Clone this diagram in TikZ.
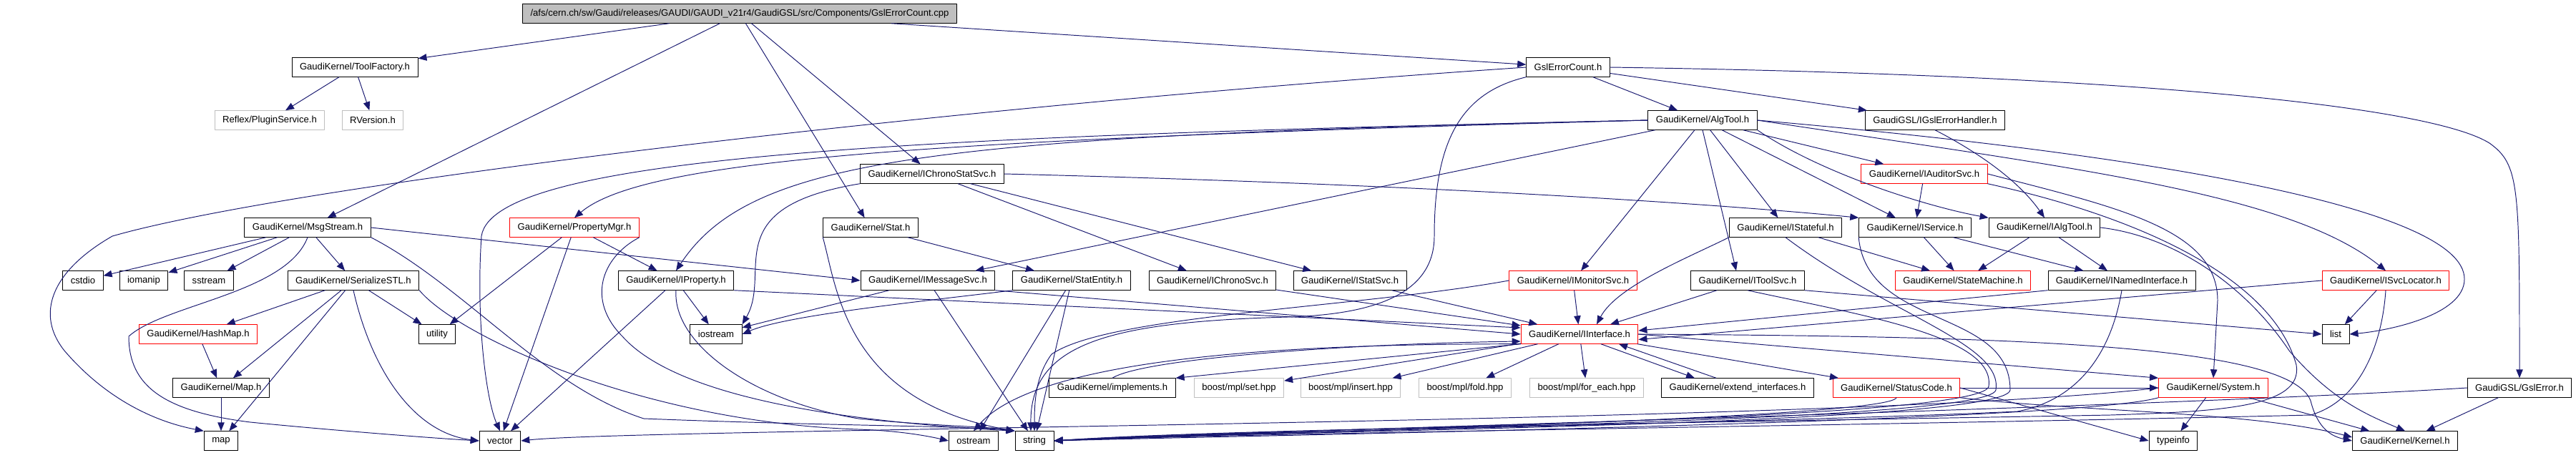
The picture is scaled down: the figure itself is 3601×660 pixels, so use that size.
\documentclass[tikz,border=0pt]{standalone}
\usepackage{fontspec}
\setmainfont{Liberation Sans}
\usetikzlibrary{arrows.meta}
\definecolor{edgeblue}{HTML}{191970}
\definecolor{extgray}{HTML}{BFBFBF}
\definecolor{truncred}{HTML}{FF0000}

\begin{document}
\begin{tikzpicture}[
		x=0.02cm,
		y=-0.02cm,
		line cap=round,
		line join=round,
		hdr/.style={draw=black,line width=0.55pt,minimum height=0.53cm,inner xsep=0.22cm,inner ysep=0pt,font=\fontsize{7.45}{9}\selectfont},
		hdrred/.style={hdr,draw=truncred},
		hdrgray/.style={hdr,draw=extgray},
		rootbox/.style={hdr,fill=extgray},
		dep/.style={draw=edgeblue,line width=0.55pt,-{Triangle[length=0.24cm,width=0.19cm]}}
	]
	
	\useasboundingbox (0,0) rectangle (3601,660);
	
	% Source file
	\node[rootbox] (root) at (1034,19) {/afs/cern.ch/sw/Gaudi/releases/GAUDI/GAUDI\_v21r4/GaudiGSL/src/Components/GslErrorCount.cpp};
	
	% Headers, row by row
	\node[hdr] (toolfac) at (496,94) {GaudiKernel/ToolFactory.h};
	\node[hdr] (gslcnt) at (2192,94) {GslErrorCount.h};
	
	\node[hdrgray] (plugin) at (377,168) {Reflex/PluginService.h};
	\node[hdrgray] (rversion) at (521,168) {RVersion.h};
	\node[hdr] (algtool) at (2380,168) {GaudiKernel/AlgTool.h};
	\node[hdr] (gslhandler) at (2705,168) {GaudiGSL/IGslErrorHandler.h};
	
	\node[hdr] (chronostat) at (1303,243) {GaudiKernel/IChronoStatSvc.h};
	\node[hdrred] (auditor) at (2690,243) {GaudiKernel/IAuditorSvc.h};
	
	\node[hdr] (msgstream) at (430,318) {GaudiKernel/MsgStream.h};
	\node[hdrred] (propmgr) at (803,318) {GaudiKernel/PropertyMgr.h};
	\node[hdr] (stat) at (1217,318) {GaudiKernel/Stat.h};
	\node[hdr] (stateful) at (2496,318) {GaudiKernel/IStateful.h};
	\node[hdr] (iservice) at (2677,318) {GaudiKernel/IService.h};
	\node[hdr] (ialgtool) at (2858,318) {GaudiKernel/IAlgTool.h};
	
	\node[hdr] (cstdio) at (116,392) {cstdio};
	\node[hdr] (iomanip) at (201,392) {iomanip};
	\node[hdr] (sstream) at (292,392) {sstream};
	\node[hdr] (serial) at (494,392) {GaudiKernel/SerializeSTL.h};
	\node[hdr] (iproperty) at (945,392) {GaudiKernel/IProperty.h};
	\node[hdr] (msgsvc) at (1297,392) {GaudiKernel/IMessageSvc.h};
	\node[hdr] (statentity) at (1498,392) {GaudiKernel/StatEntity.h};
	\node[hdr] (chronosvc) at (1695,392) {GaudiKernel/IChronoSvc.h};
	\node[hdr] (statsvc) at (1887,392) {GaudiKernel/IStatSvc.h};
	\node[hdrred] (monitor) at (2199,392) {GaudiKernel/IMonitorSvc.h};
	\node[hdr] (toolsvc) at (2443,392) {GaudiKernel/IToolSvc.h};
	\node[hdrred] (statemach) at (2744,392) {GaudiKernel/StateMachine.h};
	\node[hdr] (named) at (2966,392) {GaudiKernel/INamedInterface.h};
	\node[hdrred] (svcloc) at (3335,392) {GaudiKernel/ISvcLocator.h};
	
	\node[hdrred] (hashmap) at (277,467) {GaudiKernel/HashMap.h};
	\node[hdr] (utility) at (611,467) {utility};
	\node[hdr] (iostream) at (1001,467) {iostream};
	\node[hdrred] (iinterface) at (2208,467) {GaudiKernel/IInterface.h};
	\node[hdr] (list) at (3265,467) {list};
	
	\node[hdr] (mapH) at (309,542) {GaudiKernel/Map.h};
	\node[hdr] (implements) at (1555,542) {GaudiKernel/implements.h};
	\node[hdrgray] (mplset) at (1732,542) {boost/mpl/set.hpp};
	\node[hdrgray] (mplinsert) at (1888,542) {boost/mpl/insert.hpp};
	\node[hdrgray] (mplfold) at (2048,542) {boost/mpl/fold.hpp};
	\node[hdrgray] (mplforeach) at (2218,542) {boost/mpl/for\_each.hpp};
	\node[hdr] (extend) at (2429,542) {GaudiKernel/extend\_interfaces.h};
	\node[hdrred] (statuscode) at (2651,542) {GaudiKernel/StatusCode.h};
	\node[hdrred] (system) at (3094,542) {GaudiKernel/System.h};
	\node[hdr] (gslerror) at (3522,542) {GaudiGSL/GslError.h};
	
	\node[hdr] (map) at (309,616) {map};
	\node[hdr] (vector) at (699,616) {vector};
	\node[hdr] (ostream) at (1361,616) {ostream};
	\node[hdr] (string) at (1446,616) {string};
	\node[hdr] (typeinfo) at (3038,616) {typeinfo};
	\node[hdr] (kernel) at (3362,616) {GaudiKernel/Kernel.h};
	
	% GslErrorCount.cpp
	\draw[dep] (root) -- (toolfac);
	\draw[dep] (root) -- (msgstream);
	\draw[dep] (root) -- (stat);
	\draw[dep] (root) -- (chronostat);
	\draw[dep] (root) -- (gslcnt);
	
	% ToolFactory.h
	\draw[dep] (toolfac) -- (plugin);
	\draw[dep] (toolfac) -- (rversion);
	
	% GslErrorCount.h
	\draw[dep] (gslcnt) -- (algtool);
	\draw[dep] (gslcnt) -- (gslhandler);
	\draw[dep] (gslcnt.east) .. controls (3000,105) and (3400,150) .. (3480,200) .. controls (3522,230) and (3522,260) .. (gslerror.north);
	\draw[dep] (gslcnt.west) .. controls (1300,150) and (400,260) .. (157,330) .. controls (70,380) and (50,440) .. (90,490) .. controls (150,560) and (220,590) .. (map.north west);
	\draw[dep] (gslcnt.south west) .. controls (2040,130) and (2005,200) .. (2005,330) .. controls (2005,420) and (1900,440) .. (1800,443) .. controls (1550,450) and (1440,480) .. ([xshift=-0.1cm]string.north);
	
	% AlgTool.h
	\draw[dep] (algtool) -- (stateful);
	\draw[dep] (algtool) -- (iservice);
	\draw[dep] (algtool.south east) .. controls (2550,245) and (2700,290) .. (ialgtool.north west);
	\draw[dep] (algtool) -- (auditor);
	\draw[dep] (algtool) -- (monitor);
	\draw[dep] (algtool.south) -- ([xshift=-0.32cm]toolsvc.north);
	\draw[dep] (algtool) -- (msgsvc);
	\draw[dep] (algtool.west) .. controls (1300,190) and (1050,220) .. (iproperty.north);
	\draw[dep] (algtool.west) .. controls (1300,195) and (900,222) .. (propmgr.north);
	\draw[dep] (algtool.west) .. controls (1300,190) and (690,215) .. (673,330) .. controls (665,450) and (680,560) .. (vector.north);
	\draw[dep] (algtool.east) .. controls (2900,235) and (3200,270) .. (svcloc.north);
	\draw[dep] (algtool.east) .. controls (3000,215) and (3445,290) .. (3445,390) .. controls (3445,440) and (3340,462) .. (list.east);
	
	% IGslErrorHandler.h
	\draw[dep] (gslhandler.south) .. controls (2760,210) and (2820,250) .. (ialgtool.north);
	
	% IChronoStatSvc.h
	\draw[dep] (chronostat.east) .. controls (2000,258) and (2400,285) .. (iservice.north west);
	\draw[dep] (chronostat) -- (chronosvc);
	\draw[dep] (chronostat) -- (statsvc);
	\draw[dep] (chronostat.south west) .. controls (1000,290) and (1080,380) .. (iostream.north east);
	
	% IAuditorSvc.h
	\draw[dep] (auditor) -- (iservice);
	\draw[dep] (auditor.east) .. controls (2960,290) and (3100,320) .. (3100,420) -- (system.north);
	\draw[dep] (auditor.south east) .. controls (3020,310) and (3180,400) .. (3210,510) .. controls (3220,570) and (3100,575) .. (2950,580) .. controls (2400,590) and (1700,600) .. (string.east);
	
	% MsgStream.h
	\draw[dep] (msgstream) -- (cstdio);
	\draw[dep] (msgstream) -- (iomanip);
	\draw[dep] (msgstream) -- (sstream);
	\draw[dep] (msgstream) -- (serial);
	\draw[dep] (msgstream.east) -- (msgsvc.west);
	\draw[dep] (msgstream.south) .. controls (400,410) and (230,425) .. (180,470) .. controls (180,540) and (230,575) .. (350,590) .. controls (450,600) and (600,612) .. (vector.west);
	\draw[dep] (msgstream.south east) .. controls (650,400) and (760,540) .. (900,585) .. controls (1150,595) and (1350,595) .. (string.north west);
	
	% SerializeSTL.h
	\draw[dep] (serial) -- (hashmap);
	\draw[dep] (serial) -- (mapH);
	\draw[dep] (serial) -- (map);
	\draw[dep] (serial) -- (utility);
	\draw[dep] (serial.south) .. controls (520,520) and (580,605) .. (vector.west);
	\draw[dep] (serial.south east) .. controls (640,470) and (900,590) .. (1200,600) .. controls (1260,602) and (1300,610) .. (ostream.west);
	
	% HashMap.h, Map.h
	\draw[dep] (hashmap) -- (mapH);
	\draw[dep] (mapH) -- (map);
	
	% PropertyMgr.h
	\draw[dep] (propmgr) -- (iproperty);
	\draw[dep] (propmgr) -- (utility);
	\draw[dep] (propmgr) -- (vector);
	\draw[dep] (propmgr.south east) .. controls (840,360) and (820,420) .. (870,470) .. controls (950,560) and (1200,590) .. (string.north west);
	
	% IProperty.h
	\draw[dep] (iproperty) -- (iostream);
	\draw[dep] (iproperty) -- (vector);
	\draw[dep] (iproperty.south east) -- ([yshift=0.18cm]iinterface.west);
	\draw[dep] (iproperty.south) .. controls (940,480) and (1050,560) .. (1200,585) .. controls (1300,595) and (1380,596) .. (string.north west);
	
	% Stat.h
	\draw[dep] (stat) -- (statentity);
	\draw[dep] (stat.south west) .. controls (1170,400) and (1180,560) .. (string.north west);
	
	% StatEntity.h
	\draw[dep] (statentity) -- (ostream);
	\draw[dep] (statentity) -- (string);
	\draw[dep] (statentity.south west) .. controls (1300,420) and (1100,440) .. (iostream.east);
	
	% IMessageSvc.h
	\draw[dep] (msgsvc.south east) -- (iinterface.west);
	\draw[dep] (msgsvc) -- (iostream);
	\draw[dep] (msgsvc) -- (string);
	
	% IChronoSvc.h, IStatSvc.h
	\draw[dep] (chronosvc) -- (iinterface);
	\draw[dep] (statsvc) -- (iinterface);
	
	% IMonitorSvc.h
	\draw[dep] (monitor) -- (iinterface);
	\draw[dep] (monitor.west) .. controls (1900,430) and (1550,440) .. (1470,495) .. controls (1448,525) and (1446,560) .. (string.north);
	
	% IToolSvc.h
	\draw[dep] (toolsvc) -- (iinterface);
	\draw[dep] (toolsvc.south east) -- (list.west);
	\draw[dep] (toolsvc.south) .. controls (2600,440) and (2790,470) .. (2780,540) .. controls (2770,590) and (1750,598) .. (string.east);
	
	% IStateful.h
	\draw[dep] (stateful) -- (statemach);
	\draw[dep] (stateful.south west) .. controls (2360,360) and (2260,400) .. ([xshift=0.48cm]iinterface.north);
	\draw[dep] (stateful.south) .. controls (2640,440) and (2800,480) .. (2790,545) .. controls (2780,592) and (1750,600) .. (string.east);
	
	% IService.h
	\draw[dep] (iservice) -- (statemach);
	\draw[dep] (iservice) -- (named);
	\draw[dep] (iservice.south west) .. controls (2610,460) and (2810,430) .. (2810,545) .. controls (2805,595) and (1750,602) .. (string.east);
	
	% IAlgTool.h
	\draw[dep] (ialgtool) -- (statemach);
	\draw[dep] (ialgtool) -- (named);
	\draw[dep] (ialgtool.east) .. controls (3040,330) and (3140,400) .. (3200,490) .. controls (3260,560) and (3310,580) .. (kernel.north);
	
	% INamedInterface.h
	\draw[dep] (named.south west) -- ([yshift=0.1cm]iinterface.east);
	\draw[dep] (named.south) .. controls (2950,500) and (2900,560) .. (2820,575) .. controls (2500,590) and (1750,603) .. (string.east);
	
	% ISvcLocator.h
	\draw[dep] (svcloc) -- (list);
	\draw[dep] (svcloc.west) -- ([yshift=-0.15cm]iinterface.east);
	\draw[dep] (svcloc.south) .. controls (3330,480) and (3300,560) .. (3230,580) .. controls (2600,595) and (1750,605) .. (string.east);
	
	% IInterface.h
	\draw[dep] (iinterface) -- (mplset);
	\draw[dep] (iinterface) -- (mplinsert);
	\draw[dep] (iinterface) -- (mplfold);
	\draw[dep] (iinterface) -- (mplforeach);
	\draw[dep] (iinterface.south west) -- (implements.north east);
	\draw[dep] ([xshift=0.6cm]iinterface.south) -- ([xshift=-1.2cm]extend.north);
	\draw[dep] (iinterface) -- (statuscode);
	\draw[dep] (iinterface.east) -- (system.north west);
	\draw[dep] (iinterface.east) .. controls (2800,470) and (3200,480) .. (3230,560) .. controls (3240,600) and (3260,610) .. (kernel.west);
	\draw[dep] (iinterface.south west) .. controls (1800,480) and (1450,500) .. (ostream.north);
	
	% implements.h, extend_interfaces.h
	\draw[dep] (implements.north) .. controls (1600,500) and (1900,480) .. ([yshift=-0.2cm]iinterface.west);
	\draw[dep] ([xshift=-0.6cm]extend.north) -- ([xshift=1.1cm]iinterface.south);
	
	% StatusCode.h
	\draw[dep] (statuscode.east) -- (system.west);
	\draw[dep] (statuscode.east) -- (typeinfo.west);
	\draw[dep] (statuscode.south east) .. controls (2900,575) and (3150,575) .. ([yshift=0.1cm]kernel.west);
	\draw[dep] (statuscode.south) .. controls (2640,585) and (1750,605) .. (string.east);
	
	% System.h
	\draw[dep] (system) -- (typeinfo);
	\draw[dep] (system) -- (kernel);
	\draw[dep] (system.south west) .. controls (2900,590) and (1760,608) .. (string.east);
	\draw[dep] (system.west) .. controls (2600,592) and (900,598) .. (vector.east);
	
	% GslError.h
	\draw[dep] (gslerror) -- (kernel);
	\draw[dep] (gslerror.west) .. controls (3000,570) and (1800,600) .. (string.east);
	
\end{tikzpicture}
\end{document}
